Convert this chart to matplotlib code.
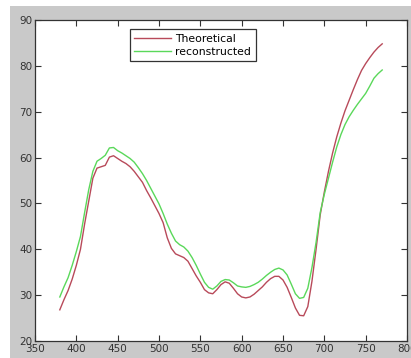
import numpy as np
import matplotlib.pyplot as plt
from matplotlib.patches import Rectangle

# wavelength grid (nm)
wavelength = list(range(380, 775, 5))

theoretical = [26.8, 29.0, 31.0, 33.5, 36.5, 40.0, 45.5, 50.5, 55.5, 57.7,
               58.0, 58.3, 60.1, 60.4, 59.8, 59.2, 58.7, 58.0, 57.0, 55.8,
               54.6, 52.8, 51.2, 49.5, 47.8, 45.8, 42.5, 40.2, 39.0, 38.6,
               38.2, 37.4, 35.8, 34.2, 32.8, 31.2, 30.5, 30.3, 31.2, 32.3,
               32.9, 32.6, 31.5, 30.3, 29.6, 29.4, 29.6, 30.2, 31.0, 31.8,
               32.8, 33.6, 34.1, 34.1, 33.3, 31.7, 29.5, 27.2, 25.6, 25.5,
               27.5, 33.0, 40.0, 47.5, 52.5, 57.0, 61.0, 64.5, 67.5, 70.2,
               72.5, 74.8, 77.0, 79.0, 80.5, 81.8, 83.0, 84.0, 84.8]

reconstructed = [29.6, 31.8, 33.8, 36.5, 39.5, 42.8, 48.0, 53.0, 57.0, 59.2,
                 59.8, 60.5, 62.1, 62.2, 61.5, 61.0, 60.4, 59.8, 59.0, 57.8,
                 56.5, 55.0, 53.3, 51.6, 49.9, 47.8, 45.5, 43.5, 41.8, 41.0,
                 40.5, 39.6, 38.2, 36.5, 34.6, 32.8, 31.7, 31.3, 32.0, 33.0,
                 33.4, 33.3, 32.7, 32.0, 31.8, 31.7, 31.9, 32.3, 32.8, 33.5,
                 34.3, 35.0, 35.6, 35.9, 35.5, 34.4, 32.4, 30.3, 29.3, 29.5,
                 31.5, 36.0, 41.5, 48.0, 52.0, 55.5, 59.0, 62.3, 65.0, 67.2,
                 68.9, 70.3, 71.6, 72.8, 74.0, 75.6, 77.3, 78.3, 79.1]

xticks = [350, 400, 450, 500, 550, 600, 650, 700, 750, 800]
yticks = [20, 30, 40, 50, 60, 70, 80, 90]

W, H = 411, 358
fig = plt.figure(figsize=(W / 100, H / 100), dpi=100, facecolor='white')
# grey matlab-like figure window behind the axes
bg = Rectangle((10 / W, 0), 1, (H - 6) / H, transform=fig.transFigure,
               facecolor='#c9c9c9', edgecolor='none', zorder=-10)
fig.add_artist(bg)

ax = fig.add_axes([35 / W, 17 / H, 372 / W, 321 / H])
ax.set_zorder(1)
ax.plot(wavelength, theoretical, color='#b84a5a', lw=1.0, label='Theoretical')
ax.plot(wavelength, reconstructed, color='#5ad85a', lw=1.0, label='reconstructed')

ax.set_xlim(350, 800)
ax.set_ylim(20, 90)
ax.set_xticks(xticks)
ax.set_yticks(yticks)
ax.tick_params(direction='in', top=True, right=True, length=4, width=0.8,
               labelsize=7.5, colors='#333333', pad=2)
for s in ax.spines.values():
    s.set_color('#333333')
    s.set_linewidth(0.9)

leg = ax.legend(loc='upper left', bbox_to_anchor=(0.255, 0.971), borderaxespad=0,
                fontsize=7.8, fancybox=False, framealpha=1, edgecolor='#333333',
                handlelength=3.4, handletextpad=0.4, borderpad=0.4, labelspacing=0.3)
leg.get_frame().set_linewidth(0.9)

fig.savefig('out.png', dpi=100, facecolor=fig.get_facecolor())
